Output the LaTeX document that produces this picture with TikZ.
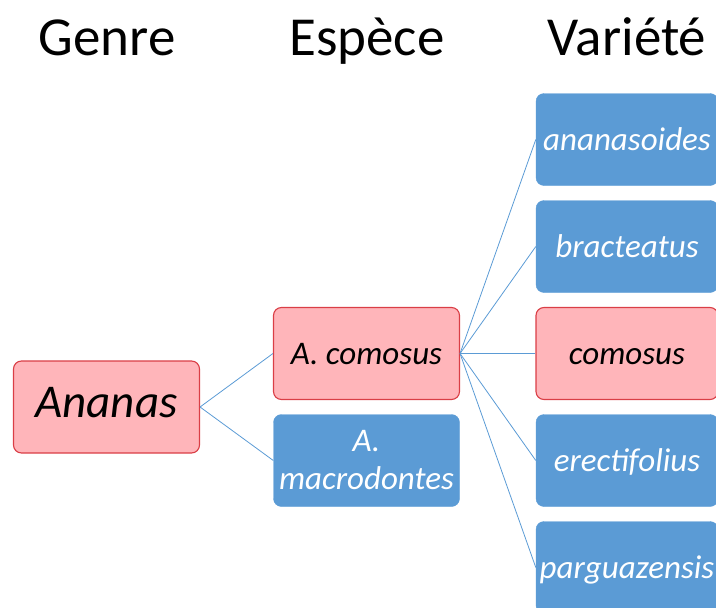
\documentclass[tikz,border=0pt]{standalone}
\usepackage{fontspec}
\setmainfont{Carlito}
\definecolor{rosa}{RGB}{255,181,186}
\definecolor{rojo}{RGB}{218,62,70}
\definecolor{azul}{RGB}{91,155,213}
\begin{document}
\begin{tikzpicture}[x=1pt,y=-1pt,
    caja/.style={rounded corners=8pt, minimum width=186pt, minimum height=92pt,
      inner sep=2pt, align=center, font=\fontsize{33}{38}\selectfont\itshape},
    linea/.style={text height=28pt, text depth=6pt},
    cajarosa/.style={caja, draw=rojo, fill=rosa, line width=1.1pt, text=black},
    cajaazul/.style={caja, draw=azul, fill=azul, text=white},
    titulo/.style={font=\fontsize{55}{60}\selectfont, anchor=base},
    rama/.style={draw=azul, line width=0.8pt}]
  \useasboundingbox (0,0) rectangle (716,608);

  % titulos
  \node[titulo] (genre) at (107,55) {Genre};
  \node[titulo] (espece) at (367,55) {Espèce};
  \node[titulo] (variete) at (627,55) {Variété};

  % genre
  \node[cajarosa, text height=33pt, text depth=12pt, font=\fontsize{47}{50}\selectfont\itshape] (ananas) at (106.5,407) {Ananas};

  % especes
  \node[cajarosa, linea] (acomosus) at (366.5,353.5) {A. comosus};
  \node[cajaazul] (amacro) at (366.5,460.5) {A.\\macrodontes};

  % varietes
  \node[cajaazul, linea, minimum width=182pt] (v1) at (627,139.5) {ananasoides};
  \node[cajaazul, linea, minimum width=182pt] (v2) at (627,246.5) {bracteatus};
  \node[cajarosa, linea, minimum width=182pt] (v3) at (627,353.5) {comosus};
  \node[cajaazul, linea, minimum width=182pt] (v4) at (627,460.5) {erectifolius};
  \node[cajaazul, linea, minimum width=182pt] (v5) at (627,567.5) {parguazensis};

  \draw[rama] (ananas.east) -- (acomosus.west);
  \draw[rama] (ananas.east) -- (amacro.west);
  \foreach \v in {v1,v2,v3,v4,v5}
    \draw[rama] (acomosus.east) -- (\v.west);
\end{tikzpicture}
\end{document}
